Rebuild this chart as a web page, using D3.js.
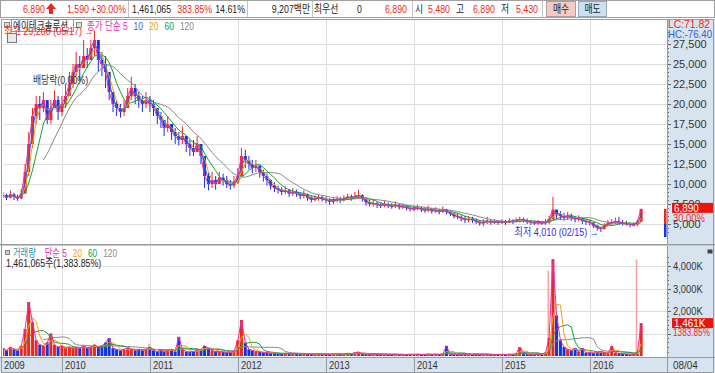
<!DOCTYPE html>
<html lang="ko">
<head>
<meta charset="UTF-8">
<title>에이테크솔루션</title>
<script src="https://d3js.org/d3.v7.min.js"></script>
<style>
  body { margin: 0; background: #fff; }
  svg { display: block; font-family: "Liberation Sans", Arial, "Noto Sans CJK KR", sans-serif; }
</style>
</head>
<body>
<svg id="chart" width="715" height="373"></svg>
<script>
// semi-monthly samples (1st / 16th), 2009-05 .. 2016-08
const closes = [
  8600, 8300, 8700, 8400, 8200, 8800, 11500, 15000, 18500, 20000, 19500, 20500, 18000, 19500, 20500, 19000,
  20000, 21000, 22500, 24000, 25000, 24500, 26000, 25500, 27000, 28000, 25500, 25000, 24000, 21500, 20000, 19500, 19000, 19500, 21000, 22000, 21000, 20500, 20000, 20500,
  20000, 19500, 18500, 18000, 17000, 17500, 16500, 16000, 15500, 16000, 15000, 14500, 14000, 15000, 13500, 11000, 10000, 10500, 10000, 10800, 10500, 10000, 9800, 10200,
  11000, 13500, 13000, 12500, 12000, 12300, 11500, 11000, 10500, 9800, 9500, 9300, 9000, 9200, 8800, 9000, 8800, 8500, 8700, 8300, 8000, 8200, 8300, 8100,
  8000, 7800, 7900, 8100, 8000, 8200, 8400, 8300, 8500, 8600, 8200, 7700, 7500, 7600, 7400, 7300, 7500, 7300, 7200, 7400, 7100, 7200, 7000, 6900,
  6900, 7000, 6800, 6700, 6900, 6600, 6700, 6500, 6800, 6500, 6300, 6000, 5900, 5700, 5500, 5600, 5500, 5300, 5100, 5200, 5400, 5200, 5300, 5200,
  5300, 5200, 5400, 5300, 5500, 5600, 5500, 5300, 5200, 5100, 5200, 5100, 5200, 5600, 6800, 6200, 6000, 5800, 6000, 5800, 5600, 5700, 5400, 5300,
  5200, 4800, 4500, 4400, 4800, 5100, 5200, 5300, 5200, 5100, 5000, 4900, 4900, 5300, 6890
];
const highs = [
  9000, 8800, 9200, 8900, 8700, 9400, 12500, 16500, 19500, 21000, 21000, 21500, 20000, 20500, 21700, 21000,
  21000, 22500, 24000, 25000, 26500, 26000, 28000, 27000, 28000, 29200, 27500, 26500, 26000, 24000, 21500, 20500, 20000, 20500, 22000, 23400, 22500, 21500, 21000, 21500,
  21000, 20500, 19500, 19000, 18000, 18500, 17500, 17000, 16500, 17200, 16000, 15500, 15500, 16000, 15000, 13000, 11500, 11500, 11000, 11500, 11300, 11000, 10500, 11000,
  12000, 14500, 14300, 13500, 13000, 13000, 12300, 11800, 11300, 10600, 10200, 9800, 9600, 9700, 9400, 9500, 9300, 9000, 9200, 8800, 8500, 8600, 8700, 8500,
  8400, 8200, 8300, 8500, 8400, 8600, 8800, 8700, 9000, 9300, 8700, 8200, 8000, 8000, 7800, 7700, 7900, 7700, 7600, 7800, 7500, 7600, 7400, 7300,
  7300, 7400, 7200, 7100, 7300, 7000, 7100, 6900, 7200, 6900, 6700, 6400, 6400, 6100, 6000, 6000, 5900, 5700, 5500, 5600, 5900, 5600, 5600, 5500,
  5600, 5500, 5700, 5600, 5800, 5900, 5800, 5700, 5500, 5400, 5500, 5400, 5600, 6000, 8400, 6800, 6600, 6400, 6500, 6300, 6000, 6100, 5800, 5600,
  5500, 5200, 4900, 4700, 5100, 5500, 5600, 5800, 5900, 5500, 5400, 5200, 5200, 5500, 6890
];
const lows = [
  8200, 8000, 8200, 8000, 7900, 8100, 8800, 11000, 14500, 17500, 18000, 19000, 17500, 17500, 19500, 18000,
  18500, 19500, 21000, 22000, 23500, 23000, 24500, 24500, 25500, 26000, 24000, 23500, 22000, 20500, 19000, 18500, 18300, 18500, 19500, 20500, 20000, 19500, 19000, 19500,
  19000, 18500, 17500, 17000, 16000, 16500, 15500, 15000, 14800, 15000, 14000, 13500, 13500, 14000, 12500, 9500, 9200, 9500, 9300, 10000, 9800, 9500, 9300, 9500,
  10000, 11000, 12000, 11800, 11300, 11500, 10800, 10300, 9800, 9300, 9000, 8800, 8600, 8700, 8400, 8500, 8400, 8100, 8200, 7900, 7700, 7800, 7900, 7800,
  7600, 7400, 7500, 7700, 7600, 7800, 8000, 7900, 8100, 8200, 7800, 7300, 7200, 7200, 7000, 7000, 7100, 7000, 6900, 7000, 6800, 6900, 6700, 6600,
  6600, 6700, 6500, 6400, 6500, 6300, 6400, 6200, 6400, 6200, 6000, 5700, 5600, 5300, 5100, 5200, 5100, 5000, 4800, 4700, 5000, 4900, 5000, 4900,
  5000, 4900, 5100, 5000, 5200, 5200, 5200, 5000, 4900, 4900, 4900, 4900, 4900, 5000, 5800, 5600, 5500, 5400, 5500, 5400, 5200, 5300, 5000, 4900,
  4800, 4500, 4200, 4010, 4300, 4800, 4900, 5000, 4900, 4800, 4800, 4600, 4700, 4700, 5430
];
// volume, thousand shares
const volumes = [
  350, 250, 400, 300, 250, 450, 1200, 2400, 1500, 700, 500, 450, 600, 1000, 500, 400,
  450, 350, 400, 350, 400, 350, 450, 350, 400, 500, 400, 450, 600, 800, 350, 300, 250, 300, 350, 300, 250, 300, 250, 300,
  400, 250, 200, 250, 200, 250, 300, 200, 850, 300, 200, 180, 200, 250, 300, 450, 350, 250, 200, 200, 180, 150, 150, 200,
  700, 1600, 600, 300, 250, 200, 180, 150, 150, 130, 120, 100, 100, 120, 100, 100, 110, 90, 100, 90, 80, 90, 100, 80,
  80, 70, 90, 100, 80, 90, 120, 100, 150, 180, 90, 80, 70, 80, 60, 70, 80, 60, 70, 80, 60, 70, 60, 80,
  70, 80, 60, 70, 90, 70, 80, 60, 100, 450, 70, 60, 70, 60, 80, 70, 60, 80, 70, 60, 70, 80, 60, 70,
  70, 60, 80, 70, 100, 400, 150, 80, 70, 60, 70, 80, 150, 800, 4300, 1800, 700, 400, 300, 250, 350, 200, 350, 150,
  150, 130, 150, 200, 150, 120, 450, 150, 120, 100, 90, 80, 90, 105, 1461
];
// light pink volume bars
const pinkVolumes = [
  ["2009-08-16", 1900], ["2010-07-16", 750], ["2011-01-01", 550], ["2012-01-16", 1100],
  ["2015-03-16", 350], ["2015-07-16", 3800], ["2015-08-16", 1400], ["2015-11-16", 300], ["2016-07-16", 4300]
];
const priceTicks = [5000, 7500, 10000, 12500, 15000, 17500, 20000, 22500, 25000, 27500];
const volTicks = [2000, 3000, 4000];
const years = ["2009", "2010", "2011", "2012", "2013", "2014", "2015", "2016"];
const priceMA = [
  { label: "5", n: 1, color: "#e62ea8" },
  { label: "10", n: 2, color: "#3a5fe0" },
  { label: "20", n: 3, color: "#f5a300" },
  { label: "60", n: 6, color: "#12a03a" },
  { label: "120", n: 12, color: "#8a8a8a" }
];
const volMA = [
  { label: "5", n: 1, color: "#e62ea8" },
  { label: "20", n: 3, color: "#f5a300" },
  { label: "60", n: 6, color: "#12a03a" },
  { label: "120", n: 12, color: "#8a8a8a" }
];

const RED = "#f0261e", BLUE = "#1432e6", AXBG = "#d7e3ef", GRID = "#dedede";
const svg = d3.select("#chart");
const plotL = 3, plotR = 667, mainT = 19, mainB = 244, volT = 247, volB = 357, dateB = 372;

// squeeze text horizontally, the original uses a narrow bitmap font
function squeeze(sel, k) {
  sel.each(function () {
    const len = this.getComputedTextLength();
    d3.select(this).attr("textLength", len * k).attr("lengthAdjust", "spacingAndGlyphs");
  });
  return sel;
}
// a row of coloured legend words, laid out one after another
function legendRow(items, x0, yb, k) {
  let cx = x0;
  items.forEach(it => {
    const t = svg.append("text").attr("x", cx).attr("y", yb).attr("font-size", "11px").attr("fill", it.color).text(it.text);
    const len = t.node().getComputedTextLength() * k;
    t.attr("textLength", len).attr("lengthAdjust", "spacingAndGlyphs");
    cx += len + it.gap;
  });
}

const dates = d3.timeMonth.range(new Date(2009, 4, 1), new Date(2016, 7, 2))
  .flatMap(m => [m, d3.timeDay.offset(m, 15)]).slice(0, closes.length);
const rows = dates.map((d, i) => {
  const o = i ? closes[i - 1] : closes[i];
  return { date: d, o, c: closes[i], h: Math.max(highs[i], o, closes[i]), l: Math.min(lows[i], o, closes[i]), v: volumes[i] };
});

const x = d3.scaleTime().domain([new Date(2009, 0, 1), new Date(2017, 0, 1)]).range([-26, 678]);
const y = d3.scaleLinear().domain([0, 27500]).range([264, 44]);
const yv = d3.scaleLinear().domain([0, 4000]).range([volB - 1, 266]);

function sma(vals, n) {
  return vals.map((v, i) => i < n - 1 ? null : d3.mean(vals.slice(i - n + 1, i + 1)));
}

// backgrounds
svg.append("rect").attr("width", 715).attr("height", 373).attr("fill", "#fff");
svg.append("rect").attr("x", plotR).attr("y", mainT).attr("width", 715 - plotR).attr("height", dateB - mainT).attr("fill", AXBG);
svg.append("rect").attr("x", 0).attr("y", volB).attr("width", 715).attr("height", dateB - volB).attr("fill", AXBG);

const defs = svg.append("defs");
defs.append("clipPath").attr("id", "mainClip").append("rect")
  .attr("x", plotL).attr("y", mainT).attr("width", plotR - plotL).attr("height", mainB - mainT);
defs.append("clipPath").attr("id", "volClip").append("rect")
  .attr("x", plotL).attr("y", volT).attr("width", plotR - plotL).attr("height", volB - volT);

// grid
const yearDates = years.slice(1).map(s => new Date(+s, 0, 1));
const grid = svg.append("g").attr("stroke", GRID).attr("shape-rendering", "crispEdges");
grid.selectAll(".hm").data(priceTicks).join("line")
  .attr("x1", plotL).attr("x2", plotR).attr("y1", d => Math.round(y(d)) + 0.5).attr("y2", d => Math.round(y(d)) + 0.5);
grid.selectAll(".hv").data([1000, 2000, 3000, 4000]).join("line")
  .attr("x1", plotL).attr("x2", plotR).attr("y1", d => Math.round(yv(d)) + 0.5).attr("y2", d => Math.round(yv(d)) + 0.5);
grid.selectAll(".vm").data(yearDates).join("line")
  .attr("x1", d => Math.round(x(d)) + 0.5).attr("x2", d => Math.round(x(d)) + 0.5).attr("y1", mainT).attr("y2", volB);

// candles
const bw = 3;
const cg = svg.append("g").attr("clip-path", "url(#mainClip)");
const candle = cg.selectAll("g.c").data(rows).join("g");
candle.append("line")
  .attr("x1", d => x(d.date)).attr("x2", d => x(d.date))
  .attr("y1", d => y(d.h)).attr("y2", d => y(d.l))
  .attr("stroke", d => d.c >= d.o ? RED : BLUE).attr("stroke-width", 1);
candle.append("rect")
  .attr("x", d => x(d.date) - bw / 2).attr("width", bw)
  .attr("y", d => y(Math.max(d.o, d.c))).attr("height", d => Math.max(1, Math.abs(y(d.o) - y(d.c))))
  .attr("fill", d => d.c >= d.o ? RED : BLUE);

// price moving averages
priceMA.slice().reverse().forEach(m => {
  const vals = sma(closes, m.n);
  cg.append("path").datum(vals)
    .attr("fill", "none").attr("stroke", m.color).attr("stroke-width", 1)
    .attr("d", d3.line().defined(v => v != null).x((v, i) => x(dates[i])).y(v => y(v)));
});

// volume bars
const vg = svg.append("g").attr("clip-path", "url(#volClip)");
vg.selectAll("rect.p").data(pinkVolumes).join("rect")
  .attr("x", d => x(d3.timeParse("%Y-%m-%d")(d[0])) - 1.6).attr("width", 1.6)
  .attr("y", d => yv(d[1])).attr("height", d => yv(0) - yv(d[1]))
  .attr("fill", "#f7a3a3");
vg.selectAll("rect.v").data(rows).join("rect")
  .attr("x", d => x(d.date) - bw / 2).attr("width", bw)
  .attr("y", d => yv(d.v)).attr("height", d => yv(0) - yv(d.v))
  .attr("fill", d => d.c >= d.o ? RED : BLUE);
volMA.slice().reverse().forEach(m => {
  const vals = sma(volumes, m.n);
  vg.append("path").datum(vals)
    .attr("fill", "none").attr("stroke", m.color).attr("stroke-width", 1)
    .attr("d", d3.line().defined(v => v != null).x((v, i) => x(dates[i])).y(v => yv(v)));
});

// axes on the right
const pa = svg.append("g").attr("shape-rendering", "crispEdges").attr("stroke", "#666");
pa.selectAll("line.min").data(d3.range(4000, 29001, 500)).join("line")
  .attr("x1", plotR).attr("x2", d => plotR + (d % 2500 === 0 ? 4 : 2))
  .attr("y1", d => Math.round(y(d)) + 0.5).attr("y2", d => Math.round(y(d)) + 0.5);
pa.selectAll("line.vmin").data(d3.range(200, 4401, 200)).join("line")
  .attr("x1", plotR).attr("x2", d => plotR + (d % 1000 === 0 ? 4 : 2))
  .attr("y1", d => Math.round(yv(d)) + 0.5).attr("y2", d => Math.round(yv(d)) + 0.5);
svg.append("g").selectAll("text").data(priceTicks).join("text")
  .attr("x", plotR + 6).attr("y", d => y(d) + 4).attr("font-size", "11px").attr("fill", "#333")
  .text(d3.format(","));
squeeze(svg.append("g").selectAll("text").data(volTicks).join("text")
  .attr("x", plotR + 6).attr("y", d => yv(d) + 4).attr("font-size", "11px").attr("fill", "#333")
  .text(d => d3.format(",")(d) + "K"), 0.85);

// panel frames
const fr = svg.append("g").attr("stroke", "#9a9a9a").attr("fill", "none").attr("shape-rendering", "crispEdges");
fr.append("line").attr("x1", plotR + 0.5).attr("x2", plotR + 0.5).attr("y1", mainT).attr("y2", dateB);
fr.append("line").attr("x1", 0).attr("x2", 715).attr("y1", 244.5).attr("y2", 244.5);
fr.append("line").attr("x1", 0).attr("x2", 715).attr("y1", 245.5).attr("y2", 245.5).attr("stroke", "#c8c8c8");
fr.append("line").attr("x1", 0).attr("x2", 715).attr("y1", volB + 0.5).attr("y2", volB + 0.5);
fr.append("rect").attr("x", 1.5).attr("y", mainT + 0.5).attr("width", 712).attr("height", dateB - mainT - 0.5);
fr.selectAll("line.yd").data(yearDates).join("line")
  .attr("x1", d => Math.round(x(d)) + 0.5).attr("x2", d => Math.round(x(d)) + 0.5).attr("y1", volB).attr("y2", dateB);

// date labels
squeeze(svg.append("g").selectAll("text").data(years).join("text")
  .attr("x", (d, i) => i ? Math.round(x(new Date(+d, 0, 1))) + 3 : plotL + 1)
  .attr("y", 369).attr("font-size", "11px").attr("fill", "#333").text(d => d), 0.85);
squeeze(svg.append("text").attr("x", plotR + 6).attr("y", 369).attr("font-size", "11px").attr("fill", "#333").text("08/04"), 0.9);

// current values on the axis
const last = rows[rows.length - 1];
svg.append("rect").attr("x", 664).attr("y", y(last.c)).attr("width", 2.5).attr("height", y(5000) - y(last.c)).attr("fill", RED);
svg.append("rect").attr("x", 664).attr("y", y(5000)).attr("width", 2.5).attr("height", 13).attr("fill", BLUE);
svg.append("rect").attr("x", 672).attr("y", y(last.c) - 6).attr("width", 41).attr("height", 10).attr("fill", "#e8160c");
squeeze(svg.append("text").attr("x", 674).attr("y", y(last.c) + 3).attr("font-size", "11px").attr("fill", "#fff").text(d3.format(",")(last.c)), 0.9);
squeeze(svg.append("text").attr("x", 673).attr("y", y(last.c) + 13).attr("font-size", "11px").attr("fill", RED).text("30.00%"), 0.85);
svg.append("rect").attr("x", 672).attr("y", yv(last.v) - 5).attr("width", 41).attr("height", 10).attr("fill", "#e8160c");
squeeze(svg.append("text").attr("x", 674).attr("y", yv(last.v) + 4).attr("font-size", "11px").attr("fill", "#fff").text("1,461K"), 0.9);
svg.append("text").attr("x", 673).attr("y", yv(last.v) + 13).attr("font-size", "11px").attr("fill", RED)
  .attr("textLength", 37).attr("lengthAdjust", "spacingAndGlyphs").text("1383.85%");
svg.append("text").attr("x", 668).attr("y", 28).attr("font-size", "11px").attr("fill", RED)
  .attr("textLength", 42).attr("lengthAdjust", "spacingAndGlyphs").text("LC:71.82");
svg.append("text").attr("x", 668).attr("y", 38).attr("font-size", "11px").attr("fill", "#2a5fd6")
  .attr("textLength", 44).attr("lengthAdjust", "spacingAndGlyphs").text("HC:-76.40");
svg.append("rect").attr("x", 707.5).attr("y", 249.5).attr("width", 5).attr("height", 4).attr("fill", "#444");

// legends, main panel
svg.append("rect").attr("x", 4.5).attr("y", 22.5).attr("width", 5).attr("height", 5).attr("fill", "#ddd").attr("stroke", "#888");
svg.append("rect").attr("x", 11.5).attr("y", 19.5).attr("width", 62).attr("height", 12).attr("fill", "#fff").attr("stroke", "#999");
squeeze(svg.append("text").attr("x", 13).attr("y", 29.5).attr("font-size", "11px").attr("fill", "#222").text("에이테크솔루션"), 0.78);
svg.append("rect").attr("x", 76.5).attr("y", 22.5).attr("width", 5).attr("height", 5).attr("fill", "#ddd").attr("stroke", "#888");
legendRow([{ text: "종가 단순 5", color: priceMA[0].color, gap: 6 }]
  .concat(priceMA.slice(1).map(m => ({ text: m.label, color: m.color, gap: 6 }))), 87, 29.5, 0.77);

// high / low marks
const hiRow = rows.reduce((a, b) => b.h > a.h ? b : a);
const loRow = rows.reduce((a, b) => b.l < a.l ? b : a);
squeeze(svg.append("text").attr("x", x(hiRow.date) - 1).attr("y", y(hiRow.h) + 5).attr("text-anchor", "end")
  .attr("font-size", "11px").attr("fill", RED).text("최고 29,200 (05/17) →"), 0.82);
svg.append("rect").attr("x", 7.5).attr("y", 33.5).attr("width", 9).attr("height", 9).attr("fill", "#e9e9e9").attr("stroke", "#777");
squeeze(svg.append("text").attr("x", x(loRow.date) - 2).attr("y", y(loRow.l) + 4).attr("text-anchor", "end")
  .attr("font-size", "11px").attr("fill", "#2a35d8").text("최저 4,010 (02/15) →"), 0.82);
squeeze(svg.append("text").attr("x", 33).attr("y", 84).attr("font-size", "11px").attr("fill", "#333").text("배당락(0.00%)"), 0.8);

// legends, volume panel
svg.append("rect").attr("x", 5.5).attr("y", 250.5).attr("width", 4).attr("height", 4).attr("fill", "#ccc").attr("stroke", "#888");
legendRow([{ text: "거래량", color: "#2795a6", gap: 9 }, { text: "단순 5", color: volMA[0].color, gap: 6 }]
  .concat(volMA.slice(1).map(m => ({ text: m.label, color: m.color, gap: 6 }))), 13, 256.5, 0.75);
squeeze(svg.append("text").attr("x", 6).attr("y", 267).attr("font-size", "11px").attr("fill", "#222").text("1,461,065주(1,383.85%)"), 0.8);

// top info bar
const tb = svg.append("g").attr("font-size", "11px");
tb.append("rect").attr("x", 0.5).attr("y", 0.5).attr("width", 714).attr("height", 17).attr("fill", "#fff").attr("stroke", "#a0a0a0");
[128, 247, 312, 412, 542].forEach(sx => tb.append("line").attr("x1", sx + 0.5).attr("x2", sx + 0.5).attr("y1", 1).attr("y2", 17).attr("stroke", "#c4c4c4"));
const info = [
  ["6,890", 45, RED, "end"], ["1,590", 89, RED, "end"], ["+30.00%", 126, RED, "end"],
  ["1,461,065", 132, "#222", "start"], ["383.85%", 212, RED, "end"], ["14.61%", 245, "#222", "end"],
  ["9,207백만", 310, "#222", "end"], ["최우선", 314, "#222", "start"], ["0", 357, "#222", "start"],
  ["6,890", 407, RED, "end"], ["시", 415, "#222", "start"], ["5,480", 450, RED, "end"],
  ["고", 456, "#222", "start"], ["6,890", 495, RED, "end"], ["저", 501, "#222", "start"], ["5,430", 538, RED, "end"]
];
squeeze(tb.selectAll("text.i").data(info).join("text")
  .attr("x", d => d[1]).attr("y", 13).attr("fill", d => d[2]).attr("text-anchor", d => d[3]).text(d => d[0]), 0.8);
tb.append("path").attr("d", "M51,3 L56,9 L53,9 L53,14 L49,14 L49,9 L46,9 Z").attr("fill", RED);
tb.append("rect").attr("x", 546.5).attr("y", 1.5).attr("width", 29).attr("height", 15).attr("fill", "#f5c9c4").attr("stroke", "#b89a98");
tb.append("rect").attr("x", 578.5).attr("y", 1.5).attr("width", 28).attr("height", 15).attr("fill", "#cde0f3").attr("stroke", "#94a8bb");
squeeze(tb.selectAll("text.b").data([["매수", 561], ["매도", 592.5]]).join("text")
  .attr("x", d => d[1]).attr("y", 13).attr("text-anchor", "middle").attr("fill", "#222").text(d => d[0]), 0.8);
</script>
</body>
</html>
